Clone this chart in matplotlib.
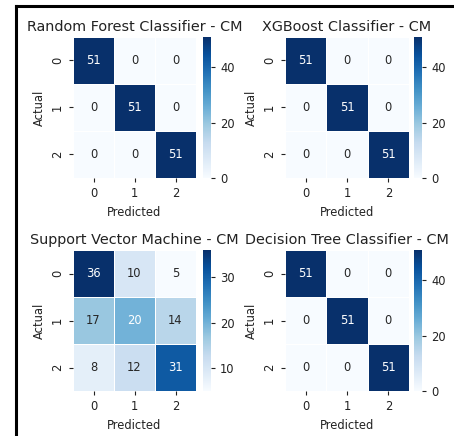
import matplotlib
matplotlib.use("Agg")
import matplotlib.pyplot as plt
import seaborn as sns
import numpy as np
from matplotlib.lines import Line2D
from matplotlib.ticker import MultipleLocator

titles = ["Random Forest Classifier - CM", "XGBoost Classifier - CM",
          "Support Vector Machine - CM", "Decision Tree Classifier - CM"]
labels = ["0", "1", "2"]
cm_rf = [[51, 0, 0], [0, 51, 0], [0, 0, 51]]
cm_xgb = [[51, 0, 0], [0, 51, 0], [0, 0, 51]]
cm_svm = [[36, 10, 5], [17, 20, 14], [8, 12, 31]]
cm_dt = [[51, 0, 0], [0, 51, 0], [0, 0, 51]]
matrices = [cm_rf, cm_xgb, cm_svm, cm_dt]
cbar_steps = [20, 20, 10, 20]

W, H = 454, 436
fig = plt.figure(figsize=(W / 100, H / 100), dpi=100)
txt = "#222222"
plt.rcParams['text.color'] = txt

# pixel boxes: (x0, x1, y0, y1) for heatmap, colorbar x0,x1
boxes = [(73, 196, 37, 178, 203, 211),
         (285, 409, 37, 178, 414, 422),
         (73, 196, 250, 391, 203, 211),
         (285, 409, 250, 391, 414, 422)]

def fr(x0, x1, y0, y1):
    return [x0 / W, 1 - y1 / H, (x1 - x0) / W, (y1 - y0) / H]

for m, t, b, st in zip(matrices, titles, boxes, cbar_steps):
    ax = fig.add_axes(fr(b[0], b[1], b[2], b[3]))
    cax = fig.add_axes(fr(b[4], b[5], b[2], b[3]))
    sns.heatmap(np.array(m), annot=True, fmt="d", cmap="Blues", ax=ax, cbar_ax=cax,
                linewidths=0.4, linecolor="white",
                xticklabels=labels, yticklabels=labels,
                annot_kws={"fontsize": 8.3})
    ax.set_title(t, fontsize=10.4, color=txt, pad=4)
    ax.set_xlabel("Predicted", fontsize=8.3, color=txt)
    ax.set_ylabel("Actual", fontsize=8.3, color=txt)
    ax.tick_params(labelsize=8.3, colors=txt, length=3)
    cax.yaxis.set_major_locator(MultipleLocator(st))
    cax.tick_params(labelsize=8.3, colors=txt, length=3)

fig.add_artist(Line2D([15.5 / W, 1], [1 - 6 / H, 1 - 6 / H], color="black", lw=2.2, transform=fig.transFigure))
fig.add_artist(Line2D([15.5 / W, 15.5 / W], [0, 1 - 6 / H], color="black", lw=2.2, transform=fig.transFigure))

fig.savefig("out.png", dpi=100)
